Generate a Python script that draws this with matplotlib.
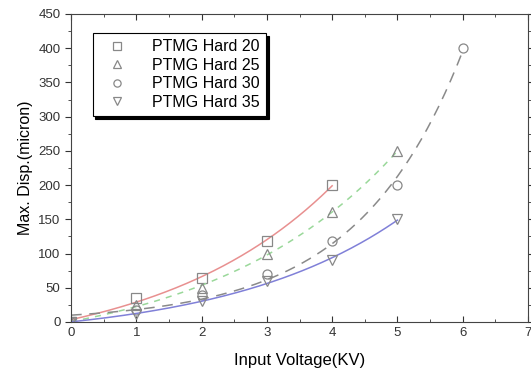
import numpy as np
import matplotlib.pyplot as plt
from matplotlib.ticker import MultipleLocator

plt.rcParams['font.family'] = ['Liberation Sans', 'DejaVu Sans']

# Data
v20 = [0, 1, 2, 3, 4]
d20 = [0, 35, 65, 118, 200]
v25 = [0, 1, 2, 3, 4, 5]
d25 = [0, 25, 50, 100, 160, 250]
v30 = [0, 1, 2, 3, 4, 5, 6]
d30 = [0, 18, 40, 70, 118, 200, 400]
v35 = [0, 1, 2, 3, 4, 5]
d35 = [0, 12, 30, 60, 90, 150]

labels = ['PTMG Hard 20', 'PTMG Hard 25', 'PTMG Hard 30', 'PTMG Hard 35']
markers = ['s', '^', 'o', 'v']
line_colors = ['#e89090', '#9ad89a', '#8a8a8a', '#8080d8']
line_styles = ['-', (0, (4, 4)), (0, (7, 5)), '-']


def exp_fit(x, y):
    # y = A*exp(Bx) + C, grid over B, least squares for A and C
    best = None
    for b in np.linspace(0.05, 1.5, 300):
        M = np.column_stack([np.exp(b * x), np.ones_like(x)])
        sol, res, *_ = np.linalg.lstsq(M, y, rcond=None)
        err = np.sum((M @ sol - y) ** 2)
        if best is None or err < best[0]:
            best = (err, b, sol)
    _, b, (a, c) = best
    return lambda t: a * np.exp(b * t) + c


fig = plt.figure(figsize=(5.31, 3.74), dpi=100)
ax = fig.add_axes([71/531, 1 - 322/374, 457/531, 308/374])

series = [(v20, d20), (v25, d25), (v30, d30), (v35, d35)]
for (x, y), m, c, ls, lab in zip(series, markers, line_colors, line_styles, labels):
    x = np.array(x, float)
    y = np.array(y, float)
    f = exp_fit(x, y)
    xs = np.linspace(0, x.max(), 200)
    ax.plot(xs, f(xs), color=c, ls=ls, lw=1.1)
    ax.plot(x, y, ls='none', marker=m, ms=6.5, mfc='none', mec='#888888',
            mew=0.9, label=lab)

ax.set_xlim(0, 7)
ax.set_ylim(0, 450)
ax.xaxis.set_major_locator(MultipleLocator(1))
ax.xaxis.set_minor_locator(MultipleLocator(0.5))
ax.yaxis.set_major_locator(MultipleLocator(50))
ax.yaxis.set_minor_locator(MultipleLocator(25))
ax.tick_params(which='both', top=True, right=True, direction='in',
               labelsize=9.5, colors='#333333')
ax.tick_params(axis='y', which='both', direction='out')
ax.tick_params(which='major', length=4)
ax.tick_params(which='minor', length=2.5)
for s in ax.spines.values():
    s.set_color('#444444')

ax.set_xlabel('Input Voltage(KV)', fontsize=12, labelpad=10)
ax.set_ylabel('Max. Disp.(micron)', fontsize=11.5, labelpad=4)

leg = ax.legend(loc='upper left', bbox_to_anchor=(0.03, 0.965), fontsize=11.5,
                frameon=True, fancybox=False, shadow={'color': 'black', 'alpha': 1},
                handletextpad=1.1, borderpad=0.4, labelspacing=0.22,
                handlelength=2.2, markerscale=0.8)
leg.get_frame().set_edgecolor('black')
leg.get_frame().set_linewidth(0.8)

fig.savefig('out.png', dpi=100)
